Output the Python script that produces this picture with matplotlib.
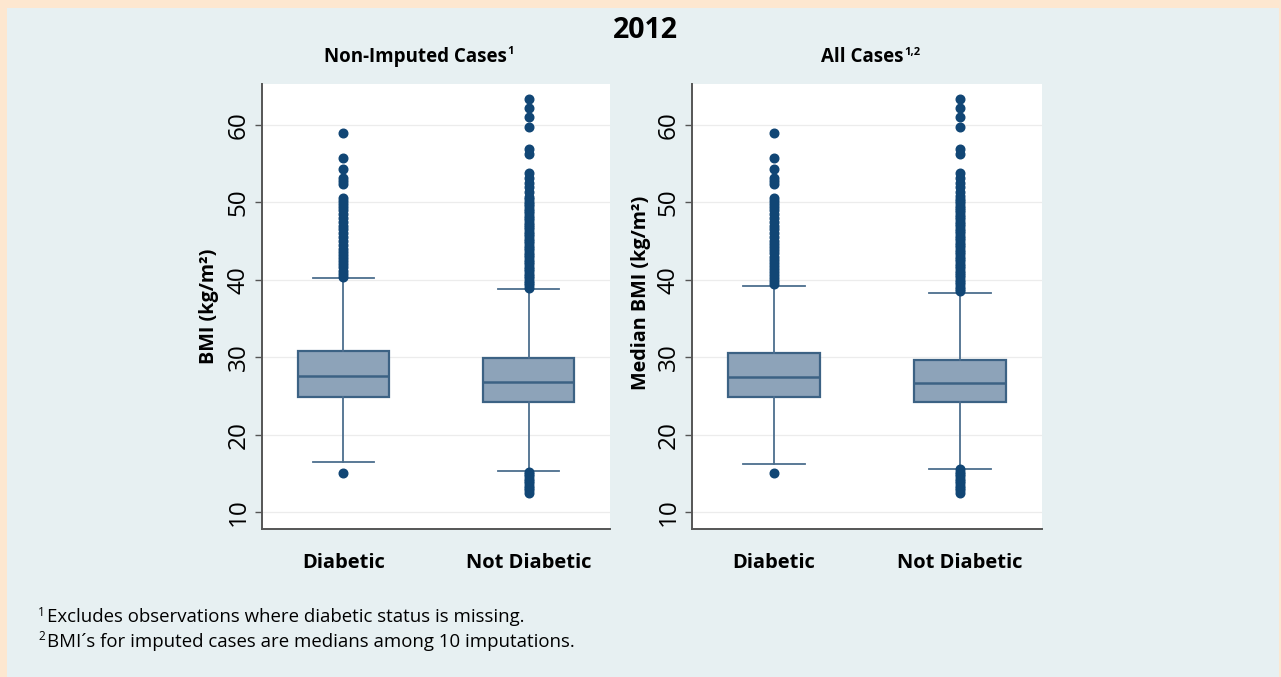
import matplotlib
matplotlib.use("Agg")
import matplotlib.pyplot as plt
from matplotlib.patches import Rectangle

# ---------------- data ----------------
groups = ["Diabetic", "Not Diabetic"]

# Non-imputed cases: quartiles and whiskers
non_q1 = [24.8, 24.25]
non_med = [27.6, 26.8]
non_q3 = [30.8, 29.9]
non_whislo = [16.4, 15.3]
non_whishi = [40.2, 38.8]

# All cases (median BMI among imputations)
all_q1 = [24.8, 24.2]
all_med = [27.4, 26.7]
all_q3 = [30.5, 29.6]
all_whislo = [16.2, 15.6]
all_whishi = [39.2, 38.3]

# Outlying observations
non_diab_out = [15.1,
                40.4, 40.8, 41.2, 41.6, 42.0, 42.4, 42.8, 43.2, 43.6, 44.0,
                44.5, 45.0, 45.5, 46.0, 46.5, 47.0, 47.5, 48.0, 48.5, 49.0,
                49.4, 49.8, 50.2, 50.6, 52.4, 52.8, 53.1, 54.3, 55.8, 59.0]
non_notdiab_out = [12.5, 12.8, 13.1, 13.4, 13.7, 14.0, 14.3, 14.6, 14.9, 15.2,
                   39.0, 39.3, 39.6, 39.9, 40.2, 40.5, 40.8, 41.1, 41.4, 41.7,
                   42.0, 42.3, 42.6, 42.9, 43.2, 43.5, 43.8, 44.1, 44.4, 44.7,
                   45.0, 45.3, 45.6, 45.9, 46.2, 46.5, 46.8, 47.1, 47.4, 47.7,
                   48.0, 48.3, 48.6, 48.9, 49.2, 49.5, 49.8, 50.1, 50.4, 50.7,
                   51.3, 52.0, 52.5, 53.1, 53.8, 56.2, 56.9, 59.8, 61.1, 62.2, 63.3]
all_diab_out = [15.1,
                39.4, 39.8, 40.2, 40.6, 41.0, 41.4, 41.8, 42.2, 42.6, 43.0,
                43.4, 43.8, 44.2, 44.6, 45.0, 45.5, 46.0, 46.5, 47.0, 47.5,
                48.0, 48.5, 49.0, 49.4, 49.8, 50.2, 50.6, 52.4, 52.8, 53.1,
                54.3, 55.8, 59.0]
all_notdiab_out = [12.5, 12.8, 13.1, 13.4, 13.7, 14.0, 14.3, 14.6, 14.9, 15.2, 15.5,
                   38.5, 38.8, 39.1, 39.4, 39.7, 40.0, 40.3, 40.6, 40.9, 41.2,
                   41.5, 41.8, 42.1, 42.4, 42.7, 43.0, 43.3, 43.6, 43.9, 44.2,
                   44.5, 44.8, 45.1, 45.4, 45.7, 46.0, 46.3, 46.6, 46.9, 47.2,
                   47.5, 47.8, 48.1, 48.4, 48.7, 49.0, 49.3, 49.6, 49.9, 50.2,
                   50.5, 50.8, 51.3, 52.0, 52.5, 53.1, 53.8, 56.2, 56.9, 59.8,
                   61.1, 62.2, 63.3]

yticks = [10, 20, 30, 40, 50, 60]
main_title = "2012"
panel_titles = ["Non-Imputed Cases", "All Cases"]
panel_title_sups = ["1", "1,2"]
ylabels = ["BMI (kg/m\u00b2)", "Median BMI (kg/m\u00b2)"]
footnotes = ["Excludes observations where diabetic status is missing.",
             "BMI\u00b4s for imputed cases are medians among 10 imputations."]

# ---------------- style ----------------
FONT = ["Open Sans", "DejaVu Sans"]
plt.rcParams["font.family"] = FONT

PEACH = "#FDE7D0"
PANEL = "#E7F0F2"
BOX_FILL = "#8DA3B9"
BOX_EDGE = "#3C6284"
WHISK = "#4C6E8E"
DOT = "#114675"

W, H = 1281, 677
fig = plt.figure(figsize=(W / 100, H / 100), dpi=100, facecolor=PEACH)
fig.patches.append(Rectangle((7 / W, 0), (1279 - 7) / W, 1 - 8 / H,
                             transform=fig.transFigure, facecolor=PANEL,
                             edgecolor="none", zorder=-10))


def px(x, y):
    return x / W, 1 - y / H


def make_stats(q1, med, q3, lo, hi, fl):
    return [dict(q1=q1[i], med=med[i], q3=q3[i], whislo=lo[i], whishi=hi[i],
                 fliers=fl[i], label=groups[i]) for i in range(len(groups))]


panels = [
    dict(rect=[262 / W, 1 - 529 / H, 348 / W, 445 / H],
         stats=make_stats(non_q1, non_med, non_q3, non_whislo, non_whishi,
                          [non_diab_out, non_notdiab_out]),
         title_x=415, label_x=-0.123, label_y=0.5),
    dict(rect=[692 / W, 1 - 529 / H, 350 / W, 445 / H],
         stats=make_stats(all_q1, all_med, all_q3, all_whislo, all_whishi,
                          [all_diab_out, all_notdiab_out]),
         title_x=862, label_x=-0.116, label_y=0.53),
]

title_artists = []
for i, p in enumerate(panels):
    ax = fig.add_axes(p["rect"])
    ax.set_facecolor("white")
    ax.bxp(p["stats"], positions=[1, 2], widths=0.49, capwidths=0.33,
           patch_artist=True, showfliers=True,
           boxprops=dict(facecolor=BOX_FILL, edgecolor=BOX_EDGE, linewidth=1.6),
           medianprops=dict(color=BOX_EDGE, linewidth=1.8),
           whiskerprops=dict(color=WHISK, linewidth=1.3),
           capprops=dict(color=WHISK, linewidth=1.3),
           flierprops=dict(marker="o", markerfacecolor=DOT, markeredgecolor=DOT,
                           markersize=6.2, linestyle="none"))
    ax.set_xlim(0.56, 2.44)
    ax.set_ylim(7.8, 65.3)
    ax.set_yticks(yticks)
    ax.set_yticklabels([str(t) for t in yticks], fontsize=17.5, rotation=90,
                       va="center")
    ax.set_xticks([1, 2])
    ax.set_xticklabels(groups, fontsize=14.5, fontweight="bold")
    ax.tick_params(axis="x", length=0, pad=17)
    ax.tick_params(axis="y", length=5, width=1, color="#555555", pad=3)
    ax.yaxis.grid(True, color="#ECECEC", linewidth=0.9)
    ax.set_axisbelow(True)
    for s in ("top", "right"):
        ax.spines[s].set_visible(False)
    for s in ("left", "bottom"):
        ax.spines[s].set_color("#555555")
        ax.spines[s].set_linewidth(1.4)
    ax.set_ylabel(ylabels[i], fontsize=14.2, fontweight="bold")
    ax.yaxis.set_label_coords(p["label_x"], p["label_y"])

    tx, ty = px(p["title_x"], 57)
    t = fig.text(tx, ty, panel_titles[i], fontsize=13.5, fontweight="bold",
                 ha="center", va="center")
    title_artists.append((t, panel_title_sups[i]))

fig.text(*px(645, 31), main_title, fontsize=20.5, fontweight="bold",
         ha="center", va="center")

for j, note in enumerate(footnotes):
    y = 617 + 25 * j
    fig.text(*px(47, y), note, fontsize=13.4, ha="left", va="center")
    fig.text(*px(45, y - 5), str(j + 1), fontsize=8.5, ha="right", va="center")

# superscripts after the panel titles
fig.canvas.draw()
renderer = fig.canvas.get_renderer()
for t, sup in title_artists:
    bb = t.get_window_extent(renderer)
    fig.text((bb.x1 + 1) / W, (bb.y1 - 5) / H, sup, fontsize=8,
             fontweight="bold", ha="left", va="center")

fig.savefig("out.png", dpi=100, facecolor=PEACH)
